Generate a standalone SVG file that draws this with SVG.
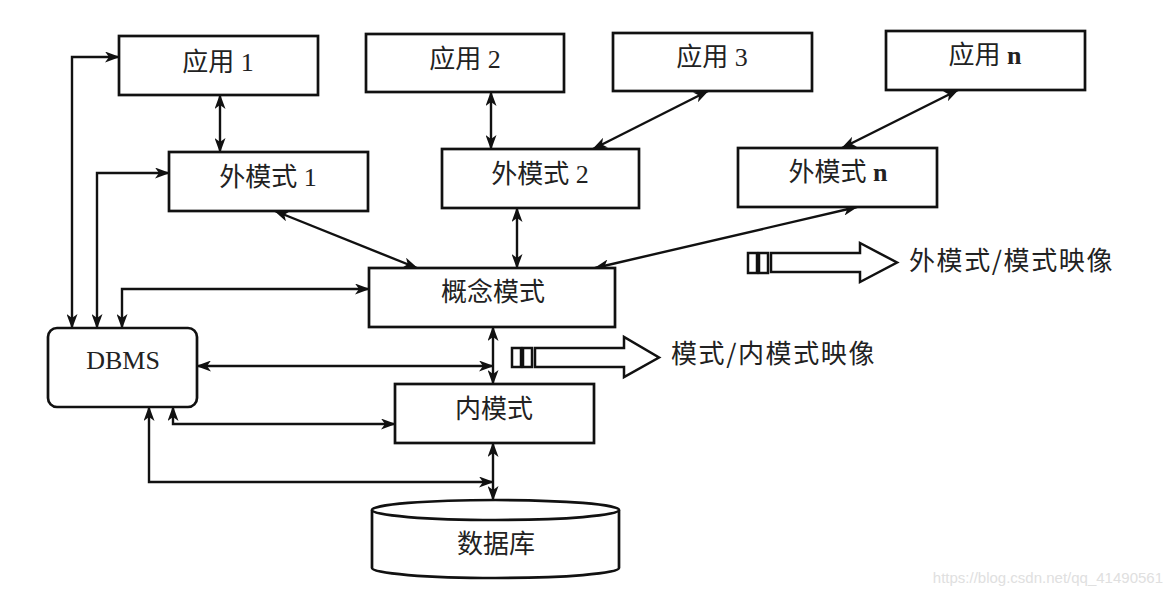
<svg xmlns="http://www.w3.org/2000/svg" width="1172" height="595" viewBox="0 0 1172 595">
<defs>
<marker id="ah" viewBox="0 0 15 11" refX="14" refY="5.5" markerWidth="15" markerHeight="11" markerUnits="userSpaceOnUse" orient="auto-start-reverse">
<path d="M0,0 L15,5.5 L0,11 L4,5.5 z" fill="#111"/>
</marker>
</defs>
<style>
.box{fill:#fff;stroke:#111;stroke-width:2.7}
.t{font-family:"Liberation Serif","Noto Sans CJK SC",serif;font-size:26px;fill:#222;text-anchor:middle}
.lbl{font-family:"Noto Sans CJK SC",sans-serif;font-size:26px;fill:#222;letter-spacing:1.6px}
.c{fill:none;stroke:#111;stroke-width:2.4;marker-start:url(#ah);marker-end:url(#ah)}
.h{fill:#fff;stroke:#111;stroke-width:2.5;stroke-linejoin:miter}
</style>
<rect width="1172" height="595" fill="#fff"/>
<g id="connectors">
<line class="c" x1="220" y1="95" x2="220" y2="152"/>
<line class="c" x1="491" y1="92" x2="491" y2="149"/>
<line class="c" x1="708" y1="91" x2="593" y2="149"/>
<line class="c" x1="958" y1="90" x2="842" y2="148"/>
<line class="c" x1="275" y1="211" x2="417" y2="268"/>
<line class="c" x1="517" y1="208" x2="517" y2="268"/>
<line class="c" x1="857" y1="207" x2="595" y2="268"/>
<line class="c" x1="493" y1="327" x2="493" y2="384"/>
<line class="c" x1="493" y1="443" x2="493" y2="500"/>
<path class="c" d="M72,328 V57 H119"/>
<path class="c" d="M97,328 V173 H169"/>
<path class="c" d="M122,328 V289 H369"/>
<path class="c" d="M197,366 H493"/>
<path class="c" d="M173,407 V424 H395"/>
<path class="c" d="M149,407 V482 H493"/>
</g>
<g id="app1"><rect class="box" x="119" y="36" width="199" height="59"/><text class="t" x="218" y="71">应用 1</text></g>
<g id="app2"><rect class="box" x="366" y="34" width="198" height="58"/><text class="t" x="465" y="68">应用 2</text></g>
<g id="app3"><rect class="box" x="613" y="33" width="199" height="58"/><text class="t" x="712" y="66">应用 3</text></g>
<g id="appn"><rect class="box" x="886" y="31" width="199" height="59"/><text class="t" x="985" y="64">应用 <tspan font-weight="bold">n</tspan></text></g>
<g id="ext1"><rect class="box" x="169" y="152" width="199" height="59"/><text class="t" x="268" y="186">外模式 1</text></g>
<g id="ext2"><rect class="box" x="442" y="149" width="197" height="59"/><text class="t" x="540" y="183">外模式 2</text></g>
<g id="extn"><rect class="box" x="738" y="148" width="199" height="59"/><text class="t" x="838" y="181">外模式 <tspan font-weight="bold">n</tspan></text></g>
<g id="concept"><rect class="box" x="369" y="268" width="246" height="59"/><text class="t" x="493" y="301">概念模式</text></g>
<g id="dbms"><rect class="box" x="48" y="328" width="149" height="79" rx="9"/><text class="t" x="123" y="369" font-family="Liberation Serif,serif" font-size="27">DBMS</text></g>
<g id="internal"><rect class="box" x="395" y="384" width="199" height="59"/><text class="t" x="494" y="418">内模式</text></g>
<g id="database">
<path class="box" d="M372,510 V568 A123.5,10 0 0 0 619,568 V510"/>
<ellipse class="box" cx="495.5" cy="510" rx="123.5" ry="10"/>
<text class="t" x="496" y="553">数据库</text>
</g>
<g id="map1">
<rect class="h" x="748" y="253" width="9" height="20"/>
<rect class="h" x="759" y="253" width="9" height="20"/>
<path class="h" d="M771,253 H860 V243 L897,262.5 L860,282 V272 H771 Z"/>
<text class="lbl" x="909" y="270">外模式/模式映像</text>
</g>
<g id="map2">
<rect class="h" x="512" y="348" width="9" height="19"/>
<rect class="h" x="523" y="348" width="9" height="19"/>
<path class="h" d="M535,348 H624 V337 L659,357.5 L624,377 V367 H535 Z"/>
<text class="lbl" x="671" y="363">模式/内模式映像</text>
</g>
<text x="1163" y="583" font-family="Liberation Sans,sans-serif" font-size="15" fill="#e0e0e0" text-anchor="end">https://blog.csdn.net/qq_41490561</text>
</svg>
